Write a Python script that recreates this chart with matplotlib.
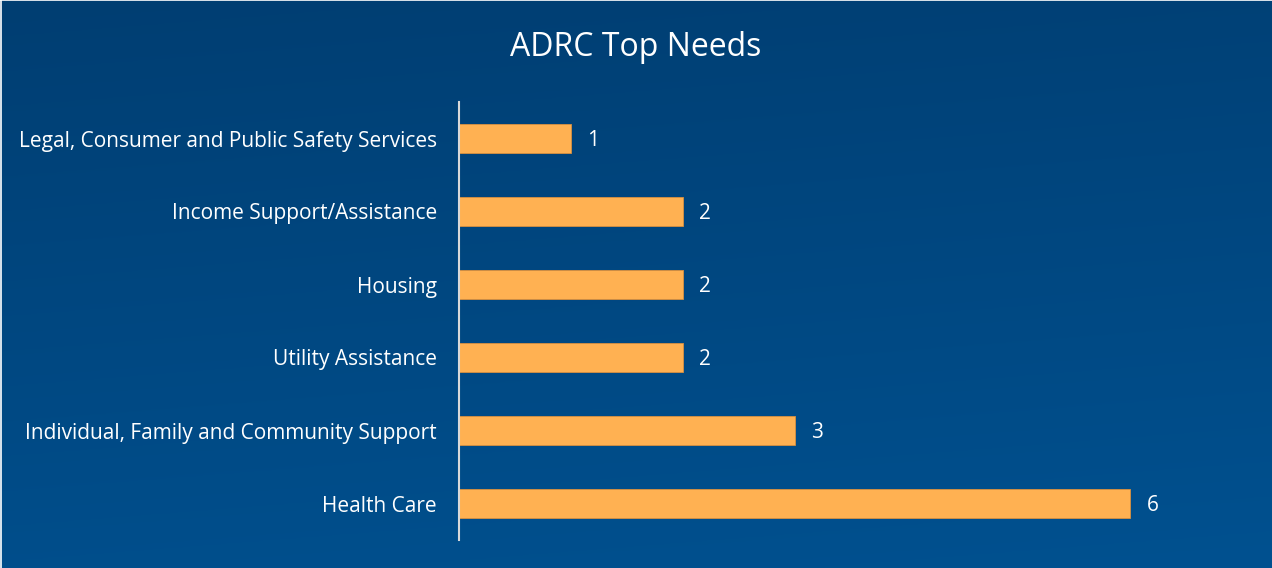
import numpy as np
import matplotlib.pyplot as plt

# categories listed bottom to top
categories = [
    "Health Care",
    "Individual, Family and Community Support",
    "Utility Assistance",
    "Housing",
    "Income Support/Assistance",
    "Legal, Consumer and Public Safety Services",
]
counts = [6, 3, 2, 2, 2, 1]

plt.rcParams['font.family'] = ['Open Sans', 'DejaVu Sans']

fig = plt.figure(figsize=(12.72, 5.68), dpi=100)

# blue gradient backdrop
bg = fig.add_axes([0, 0, 1, 1], zorder=-1)
top = np.array([1, 62, 114]) / 255
bottom = np.array([0, 81, 144]) / 255
ny, nx = 200, 200
yy, xx = np.mgrid[0:1:ny * 1j, 0:1:nx * 1j]
t = np.clip(0.85 * yy + 0.15 * xx, 0, 1)[..., None]
grad = top * (1 - t) + bottom * t
bg.imshow(grad, aspect='auto', extent=[0, 1, 1, 0])
bg.set_xlim(0, 1)
bg.set_ylim(1, 0)
bg.axis('off')

# thin white edge along top and left
fig.add_artist(plt.Line2D([0, 1], [0.9995, 0.9995], color='white', lw=1.2, transform=fig.transFigure))
fig.add_artist(plt.Line2D([0.0005, 0.0005], [0, 1], color='white', lw=1.2, transform=fig.transFigure))

ax = fig.add_axes([459 / 1272, 28 / 568, 783 / 1272, 438 / 568])
ax.patch.set_alpha(0)
y = np.arange(len(categories))
bars = ax.barh(y, counts, height=0.4, color='#FFB152', edgecolor='#D9903F', linewidth=0.6)

for b, v in zip(bars, counts):
    ax.annotate(str(v), (b.get_width(), b.get_y() + b.get_height() / 2),
                xytext=(12, -1.5), textcoords='offset points',
                ha='left', va='center', color='white', fontsize=15)

ax.set_xlim(0, 7)
ax.set_ylim(-0.5, len(categories) - 0.5)
ax.set_yticks(y)
ax.set_yticklabels(categories, color='white', fontsize=15)
ax.tick_params(axis='y', length=0, pad=16)
ax.set_xticks([])
for side in ['top', 'right', 'bottom']:
    ax.spines[side].set_visible(False)
ax.spines['left'].set_color('#D9D9D9')
ax.spines['left'].set_linewidth(1.5)

fig.text(0.5, 1 - 48 / 568, "ADRC Top Needs", ha='center', va='center', color='white', fontsize=23)

fig.savefig('out.png', dpi=100)
